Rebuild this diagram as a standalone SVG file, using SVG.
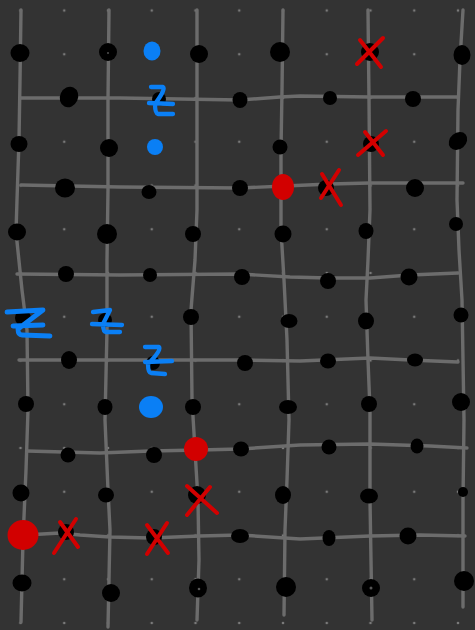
<svg xmlns="http://www.w3.org/2000/svg" width="475" height="630" viewBox="0 0 475 630">
<defs>
<pattern id="dots" x="20.5" y="10.5" width="43.75" height="43.75" patternUnits="userSpaceOnUse">
<circle cx="0" cy="0" r="1.3" fill="#7a7a7a"/>
<circle cx="43.75" cy="0" r="1.3" fill="#7a7a7a"/>
<circle cx="0" cy="43.75" r="1.3" fill="#7a7a7a"/>
<circle cx="43.75" cy="43.75" r="1.3" fill="#7a7a7a"/>
</pattern>
</defs>
<style>
.ln{fill:none;stroke:#6c6c6c;stroke-width:3.4;stroke-linecap:round;stroke-linejoin:round}
.b{fill:#000}
.r{fill:#d20000}
.u{fill:#0a7ff5}
.x{fill:none;stroke:#d20000;stroke-width:4;stroke-linecap:round}
.z{fill:none;stroke:#0a7ff5;stroke-width:4.3;stroke-linecap:round;stroke-linejoin:round}
.h{fill:#555}
</style>
<rect width="475" height="630" fill="#333333"/>
<rect x="0" y="0" width="475" height="630" fill="url(#dots)"/>
<g id="connectors">
<path class="ln" d="M21,10 L20,80 L19,140 L17,200 L16,232 L22,290 L27,330 L28,410 L26,470 L23,540 L21,622"/>
<path class="ln" d="M109,10 L108,100 L108,190 L107,260 L107,330 L105,420 L108,490 L110,530 L108,627"/>
<path class="ln" d="M197,10 L197,110 L197,210 L195,260 L191,310 L192,400 L195,450 L198,500 L199,560 L197,620"/>
<path class="ln" d="M283,10 L282,90 L281,150 L281,230 L284,280 L287,340 L289,420 L287,480 L285,530 L284,615"/>
<path class="ln" d="M368,10 L369,100 L370,210 L368,260 L366,300 L368,360 L370,410 L370,500 L371,560 L372,620"/>
<path class="ln" d="M463,10 L460,60 L458,110 L457,200 L459,250 L462,300 L464,420 L463,500 L463,607"/>
<path class="ln" d="M21,98 L120,98 L240,100 L280,97 L300,96 L370,97 L458,97"/>
<path class="ln" d="M21,185 L120,187 L240,188 L285,186 L330,184 L370,183 L463,183"/>
<path class="ln" d="M17,274 L120,275 L240,274 L290,277 L328,278 L370,278 L410,275 L458,273"/>
<path class="ln" d="M19,360 L120,360 L240,360 L300,361 L370,358 L410,360 L458,362"/>
<path class="ln" d="M27,451 L100,453 L150,451 L200,450 L240,449 L300,445 L370,444 L430,446 L467,448"/>
<path class="ln" d="M25,535 L60,533 L80,535 L110,537 L150,538 L200,536 L240,535 L300,539 L370,536 L420,535 L465,536"/>
</g>
<g id="r1">
<g id="n-1-0"><ellipse class="b" cx="20" cy="53" rx="9.5" ry="9"/></g>
<g id="n-1-2"><ellipse class="b" cx="108" cy="52" rx="9" ry="9"/><circle cx="108" cy="53" r="0.8" fill="#888"/></g>
<g id="n-1-3"><ellipse class="u" cx="152" cy="51" rx="8.5" ry="9.5"/></g>
<g id="n-1-4"><ellipse class="b" cx="199" cy="54" rx="9" ry="9"/></g>
<g id="n-1-6"><ellipse class="b" cx="280" cy="52" rx="10" ry="10"/></g>
<g id="n-1-8"><ellipse class="b" cx="370" cy="52" rx="9" ry="9"/><path class="x" d="M360,40 L381,67 M383,38 L357,64"/></g>
<g id="n-1-10"><ellipse class="b" cx="462" cy="55" rx="8.5" ry="10"/></g>
</g>
<g id="r2">
<g id="n-2-1"><ellipse class="b" cx="69" cy="97" rx="9" ry="10.5" transform="rotate(25 69 97)"/></g>
<g id="n-2-3"><ellipse class="b" cx="159" cy="99" rx="7" ry="7"/><path class="z" d="M151,87 L163,87 Q166,89 155,104 Q155,113 158,114 L173,114 M149,103 L173,104"/></g>
<g id="n-2-5"><ellipse class="b" cx="240" cy="100" rx="7.5" ry="8"/></g>
<g id="n-2-7"><ellipse class="b" cx="330" cy="98" rx="7" ry="7"/></g>
<g id="n-2-9"><ellipse class="b" cx="413" cy="99" rx="8" ry="8"/></g>
</g>
<g id="r3">
<g id="n-3-0"><ellipse class="b" cx="19" cy="144" rx="8.5" ry="8"/></g>
<g id="n-3-2"><ellipse class="b" cx="109" cy="148" rx="9" ry="9"/></g>
<g id="n-3-3"><ellipse class="u" cx="155" cy="147" rx="8" ry="8"/></g>
<g id="n-3-6"><ellipse class="b" cx="280" cy="147" rx="7.5" ry="7.5"/></g>
<g id="n-3-8"><ellipse class="b" cx="371" cy="144" rx="8" ry="8"/><path class="x" d="M365,132 L383,155 M386,131 L358,155"/></g>
<g id="n-3-10"><ellipse class="b" cx="458" cy="141" rx="10" ry="8" transform="rotate(-40 458 141)"/></g>
</g>
<g id="r4">
<g id="n-4-1"><ellipse class="b" cx="65" cy="188" rx="10" ry="9.5"/></g>
<g id="n-4-3"><ellipse class="b" cx="149" cy="192" rx="7.5" ry="7"/></g>
<g id="n-4-5"><ellipse class="b" cx="240" cy="188" rx="8" ry="8"/></g>
<g id="n-4-6"><ellipse class="r" cx="283" cy="187" rx="11" ry="13"/></g>
<g id="n-4-7"><ellipse class="b" cx="326" cy="188" rx="8" ry="8"/><path class="x" d="M322,174 L341,205 M339,170 L321,198"/></g>
<g id="n-4-9"><ellipse class="b" cx="415" cy="188" rx="9" ry="9"/></g>
</g>
<g id="r5">
<g id="n-5-0"><ellipse class="b" cx="17" cy="232" rx="9" ry="8.5"/></g>
<g id="n-5-2"><ellipse class="b" cx="107" cy="234" rx="10" ry="10"/></g>
<g id="n-5-4"><ellipse class="b" cx="193" cy="234" rx="8" ry="8"/></g>
<g id="n-5-6"><ellipse class="b" cx="283" cy="234" rx="8.5" ry="8.5"/></g>
<g id="n-5-8"><ellipse class="b" cx="366" cy="231" rx="7.5" ry="8"/></g>
<g id="n-5-10"><ellipse class="b" cx="456" cy="224" rx="7" ry="7"/></g>
</g>
<g id="r6">
<g id="n-6-1"><ellipse class="b" cx="66" cy="274" rx="8" ry="8"/></g>
<g id="n-6-3"><ellipse class="b" cx="150" cy="275" rx="7" ry="7"/></g>
<g id="n-6-5"><ellipse class="b" cx="242" cy="277" rx="8" ry="8"/></g>
<g id="n-6-7"><ellipse class="b" cx="328" cy="281" rx="8" ry="8"/></g>
<g id="n-6-9"><ellipse class="b" cx="409" cy="277" rx="8.5" ry="8.5"/></g>
</g>
<g id="r7">
<g id="n-7-0"><ellipse class="b" cx="23" cy="318" rx="8" ry="8"/><path class="z" d="M7,312 L43,310 L18,329 Q18,335 22,335 L50,336 M13,326 L43,325" style="stroke-width:4.8"/></g>
<g id="n-7-2"><ellipse class="b" cx="105" cy="320" rx="7" ry="7"/><path class="z" d="M93,312 L110,310 L103,324 Q103,332 106,332 L120,332 M92,324 L122,325"/></g>
<g id="n-7-4"><ellipse class="b" cx="191" cy="317" rx="8" ry="8"/></g>
<g id="n-7-6"><ellipse class="b" cx="289" cy="321" rx="8.5" ry="7"/></g>
<g id="n-7-8"><ellipse class="b" cx="366" cy="321" rx="8" ry="8.5"/></g>
<g id="n-7-10"><ellipse class="b" cx="461" cy="315" rx="7.5" ry="7.5"/></g>
</g>
<g id="r8">
<g id="n-8-1"><ellipse class="b" cx="69" cy="360" rx="8" ry="9"/></g>
<g id="n-8-3"><ellipse class="b" cx="153" cy="363" rx="7" ry="7"/><path class="z" d="M145,347 L159,347 Q162,350 148,364 Q148,373 151,373 L165,374 M145,362 L172,361"/></g>
<g id="n-8-5"><ellipse class="b" cx="245" cy="363" rx="8" ry="8"/></g>
<g id="n-8-7"><ellipse class="b" cx="328" cy="361" rx="8" ry="7.5"/></g>
<g id="n-8-9"><ellipse class="b" cx="415" cy="360" rx="8" ry="6.5"/></g>
</g>
<g id="r9">
<g id="n-9-0"><ellipse class="b" cx="26" cy="404" rx="8" ry="8"/></g>
<g id="n-9-2"><ellipse class="b" cx="105" cy="407" rx="7.5" ry="8"/></g>
<g id="n-9-3"><ellipse class="u" cx="151" cy="407" rx="12" ry="11"/></g>
<g id="n-9-4"><ellipse class="b" cx="193" cy="407" rx="8" ry="8"/></g>
<g id="n-9-6"><ellipse class="b" cx="288" cy="407" rx="9" ry="7"/></g>
<g id="n-9-8"><ellipse class="b" cx="369" cy="404" rx="8" ry="8"/></g>
<g id="n-9-10"><ellipse class="b" cx="461" cy="402" rx="9" ry="9"/></g>
</g>
<g id="r10">
<g id="n-10-1"><ellipse class="b" cx="68" cy="455" rx="7.5" ry="7.5"/></g>
<g id="n-10-3"><ellipse class="b" cx="154" cy="455" rx="8" ry="8"/></g>
<g id="n-10-4"><ellipse class="r" cx="196" cy="449" rx="12" ry="12"/></g>
<g id="n-10-5"><ellipse class="b" cx="241" cy="449" rx="8" ry="7.5"/></g>
<g id="n-10-7"><ellipse class="b" cx="329" cy="447" rx="7.5" ry="7.5"/></g>
<g id="n-10-9"><ellipse class="b" cx="417" cy="446" rx="6.5" ry="7.5"/></g>
</g>
<g id="r11">
<g id="n-11-0"><ellipse class="b" cx="21" cy="493" rx="8.5" ry="8.5"/></g>
<g id="n-11-2"><ellipse class="b" cx="106" cy="495" rx="8" ry="7.5"/></g>
<g id="n-11-4"><ellipse class="b" cx="197" cy="495" rx="9" ry="9"/><path class="x" d="M187,486 L217,513 M210,487 L187,515"/></g>
<g id="n-11-6"><ellipse class="b" cx="283" cy="495" rx="8" ry="9"/></g>
<g id="n-11-8"><ellipse class="b" cx="369" cy="496" rx="9" ry="7.5"/></g>
<g id="n-11-10"><ellipse class="b" cx="463" cy="492" rx="5" ry="5"/></g>
</g>
<g id="r12">
<g id="n-12-0"><ellipse class="r" cx="23" cy="535" rx="15.5" ry="15"/></g>
<g id="n-12-1"><ellipse class="b" cx="66" cy="532" rx="8" ry="8"/><path class="x" d="M60,522 L78,547 M76,519 L54,553"/></g>
<g id="n-12-3"><ellipse class="b" cx="154" cy="537" rx="8" ry="8"/><path class="x" d="M147,525 L168,553 M167,523 L147,554"/></g>
<g id="n-12-5"><ellipse class="b" cx="240" cy="536" rx="9" ry="7"/></g>
<g id="n-12-7"><ellipse class="b" cx="329" cy="538" rx="6.5" ry="8"/></g>
<g id="n-12-9"><ellipse class="b" cx="408" cy="536" rx="8.5" ry="8.5"/></g>
</g>
<g id="r13">
<g id="n-13-0"><ellipse class="b" cx="22" cy="583" rx="9.5" ry="8.5"/></g>
<g id="n-13-2"><ellipse class="b" cx="111" cy="593" rx="9" ry="9"/></g>
<g id="n-13-4"><ellipse class="b" cx="198" cy="588" rx="9" ry="9.5"/><circle class="h" cx="199" cy="589" r="1.3"/></g>
<g id="n-13-6"><ellipse class="b" cx="286" cy="587" rx="10" ry="10"/></g>
<g id="n-13-8"><ellipse class="b" cx="371" cy="588" rx="9" ry="9"/><circle class="h" cx="371" cy="588" r="1.5"/></g>
<g id="n-13-10"><ellipse class="b" cx="464" cy="581" rx="10" ry="10"/></g>
</g>
</svg>
